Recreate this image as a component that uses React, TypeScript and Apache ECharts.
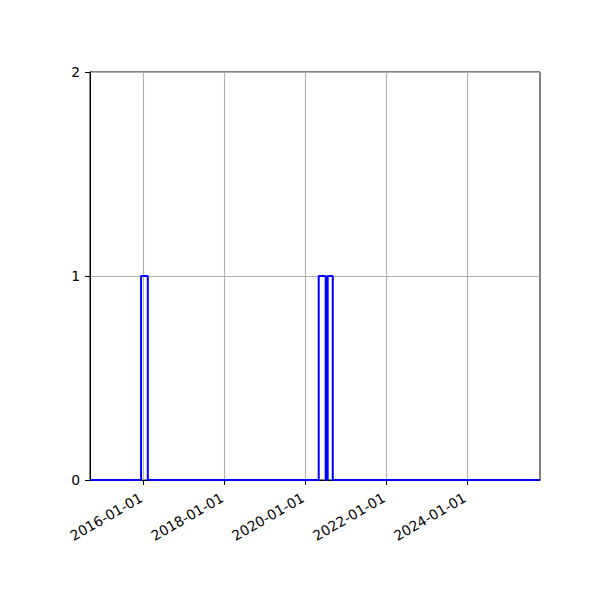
import React, { useEffect, useRef } from 'react';
import * as echarts from 'echarts';

// histogram bins (left edge, right edge, count)
const binStarts = ['2015-12-08', '2020-04-29', '2020-07-19'];
const binEnds = ['2016-02-07', '2020-07-01', '2020-09-03'];
const binCounts = [1, 1, 1];

const xRange = ['2014-09-03', '2025-10-18'];
const xTickDates = ['2016-01-01', '2018-01-01', '2020-01-01', '2022-01-01', '2024-01-01'];
const yTicks = [0, 1, 2];

const ts = (d: string) => Date.parse(d + 'T00:00:00Z');
const fmt = (v: number) => new Date(v).toISOString().slice(0, 10);

const FONT = 'DejaVu Sans';

const App: React.FC = () => {
  const chartRef = useRef<HTMLDivElement>(null);

  useEffect(() => {
    document.body.style.margin = '0';
    if (!chartRef.current) return;
    const chart = echarts.init(chartRef.current, undefined, { renderer: 'svg' });

    // step outline of the histogram, baseline runs across the whole axis
    const outline: [number, number][] = [[ts(xRange[0]), 0]];
    binStarts.forEach((s, i) => {
      outline.push([ts(s), 0], [ts(s), binCounts[i]], [ts(binEnds[i]), binCounts[i]], [ts(binEnds[i]), 0]);
    });
    outline.push([ts(xRange[1]), 0]);

    const xTicks = xTickDates.map(ts);

    chart.setOption({
      animation: false,
      grid: {
        left: 90,
        right: 60,
        top: 72,
        bottom: 120,
        show: true,
        borderColor: '#000',
        borderWidth: 1,
        backgroundColor: '#fff',
      },
      xAxis: {
        type: 'value',
        min: ts(xRange[0]),
        max: ts(xRange[1]),
        axisLine: { show: true, onZero: false, lineStyle: { color: '#000', width: 1 } },
        axisTick: { show: true, length: 5, customValues: xTicks, lineStyle: { color: '#000' } },
        axisLabel: {
          customValues: xTicks,
          formatter: (v: number) => fmt(v),
          rotate: 30,
          margin: 15,
          padding: [0, 3, 0, 0],
          color: '#000',
          fontFamily: FONT,
          fontSize: 13.9,
        },
        splitLine: { show: true, lineStyle: { color: '#b0b0b0', width: 1.1 } },
      },
      yAxis: {
        type: 'value',
        min: yTicks[0],
        max: yTicks[yTicks.length - 1],
        interval: 1,
        axisLine: { show: true, lineStyle: { color: '#000', width: 1 } },
        axisTick: { show: true, length: 5, lineStyle: { color: '#000' } },
        axisLabel: { margin: 10, color: '#000', fontFamily: FONT, fontSize: 13.9 },
        splitLine: { show: true, lineStyle: { color: '#b0b0b0', width: 1.1 } },
      },
      series: [
        {
          type: 'line',
          data: outline,
          showSymbol: false,
          lineStyle: { color: '#0000ff', width: 2 },
          silent: true,
        },
      ],
    });
    return () => chart.dispose();
  }, []);

  return <div ref={chartRef} style={{ width: 600, height: 600 }} />;
};

export default App;
